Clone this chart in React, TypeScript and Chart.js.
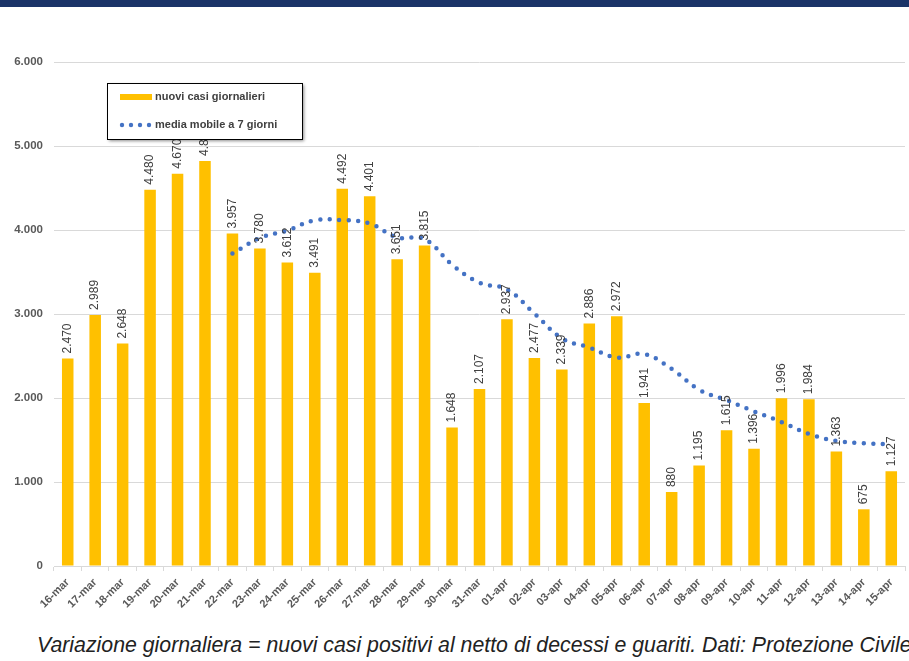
import React, { useEffect, useRef } from 'react';
import { Chart, registerables } from 'chart.js';

Chart.register(...registerables);

const categories = [
  '16-mar', '17-mar', '18-mar', '19-mar', '20-mar', '21-mar', '22-mar', '23-mar',
  '24-mar', '25-mar', '26-mar', '27-mar', '28-mar', '29-mar', '30-mar', '31-mar',
  '01-apr', '02-apr', '03-apr', '04-apr', '05-apr', '06-apr', '07-apr', '08-apr',
  '09-apr', '10-apr', '11-apr', '12-apr', '13-apr', '14-apr', '15-apr',
];

const dailyCases = [
  2470, 2989, 2648, 4480, 4670, 4821, 3957, 3780,
  3612, 3491, 4492, 4401, 3651, 3815, 1648, 2107,
  2937, 2477, 2339, 2886, 2972, 1941, 880, 1195,
  1615, 1396, 1996, 1984, 1363, 675, 1127,
];

const movingAverage: (number | null)[] = [
  null, null, null, null, null, null, 3719, 3906,
  3995, 4116, 4118, 4079, 3912, 3892, 3587, 3372,
  3293, 3005, 2711, 2601, 2481, 2523, 2347, 2099,
  1975, 1841, 1714, 1572, 1490, 1461, 1451,
];

const yTicks = [0, 1000, 2000, 3000, 4000, 5000, 6000];

const barLabel = 'nuovi casi giornalieri';
const lineLabel = 'media mobile a 7 giorni';
const footerText =
  'Variazione giornaliera = nuovi casi positivi al netto di decessi e guariti. Dati: Protezione Civile';

const BAR_COLOR = '#FFC000';
const LINE_COLOR = '#4472C4';
const FONT = "'Liberation Sans', Arial, Helvetica, sans-serif";

const fmt = (v: number) => String(Math.round(v)).replace(/\B(?=(\d{3})+(?!\d))/g, '.');

const valueLabelPlugin = {
  id: 'valueLabels',
  afterDatasetsDraw(chart: any) {
    const ctx = chart.ctx as CanvasRenderingContext2D;
    const meta = chart.getDatasetMeta(0);
    ctx.save();
    ctx.font = `12px ${FONT}`;
    ctx.fillStyle = '#404040';
    ctx.textAlign = 'left';
    ctx.textBaseline = 'middle';
    meta.data.forEach((el: any, i: number) => {
      const v = dailyCases[i];
      ctx.save();
      ctx.translate(el.x, el.y - 5);
      ctx.rotate(-Math.PI / 2);
      ctx.fillText(fmt(v), 0, 0);
      ctx.restore();
    });
    ctx.restore();
  },
};

const legendPlugin = {
  id: 'boxLegend',
  afterDraw(chart: any) {
    const ctx = chart.ctx as CanvasRenderingContext2D;
    const x = 107, y = 83, w = 195, h = 56;
    ctx.save();
    ctx.shadowColor = 'rgba(0,0,0,0.45)';
    ctx.shadowOffsetX = 2;
    ctx.shadowOffsetY = 2;
    ctx.shadowBlur = 3;
    ctx.fillStyle = '#ffffff';
    ctx.fillRect(x, y, w, h);
    ctx.shadowColor = 'transparent';
    ctx.strokeStyle = '#000000';
    ctx.lineWidth = 1;
    ctx.strokeRect(x + 0.5, y + 0.5, w, h);

    ctx.fillStyle = BAR_COLOR;
    ctx.fillRect(120, 94, 32, 6);
    ctx.fillStyle = LINE_COLOR;
    [122, 131, 140, 149].forEach((cx) => {
      ctx.beginPath();
      ctx.arc(cx, 125, 2.2, 0, Math.PI * 2);
      ctx.fill();
    });

    ctx.font = `bold 11px ${FONT}`;
    ctx.fillStyle = '#404040';
    ctx.textBaseline = 'middle';
    ctx.textAlign = 'left';
    ctx.fillText(barLabel, 155, 97);
    ctx.fillText(lineLabel, 155, 125);
    ctx.restore();
  },
};

export default function App() {
  const canvasRef = useRef<HTMLCanvasElement | null>(null);

  useEffect(() => {
    if (!canvasRef.current) return;
    const chart = new Chart(canvasRef.current, {
      type: 'bar',
      data: {
        labels: categories,
        datasets: [
          {
            type: 'bar',
            label: barLabel,
            data: dailyCases,
            backgroundColor: BAR_COLOR,
            borderWidth: 0,
            barPercentage: 0.42,
            categoryPercentage: 1,
            order: 2,
          },
          {
            type: 'line',
            label: lineLabel,
            data: movingAverage,
            borderColor: LINE_COLOR,
            borderWidth: 4.5,
            borderDash: [0, 9.5],
            borderCapStyle: 'round',
            pointRadius: 0,
            tension: 0.4,
            fill: false,
            order: 1,
          } as any,
        ],
      },
      options: {
        animation: false,
        responsive: false,
        maintainAspectRatio: false,
        layout: { padding: { top: 62, right: 4, left: 0, bottom: 0 } },
        plugins: {
          legend: { display: false },
          tooltip: { enabled: false },
        },
        scales: {
          x: {
            offset: true,
            grid: {
              display: true,
              drawOnChartArea: false,
              drawTicks: true,
              tickLength: 5,
              color: '#d9d9d9',
              offset: true,
            },
            border: { display: true, color: '#d9d9d9' },
            ticks: {
              autoSkip: false,
              maxRotation: 45,
              minRotation: 45,
              color: '#595959',
              font: { family: FONT, size: 11, weight: 'bold' },
              padding: 5,
            },
            afterFit: (axis: any) => {
              axis.height = 54;
            },
          },
          y: {
            min: 0,
            max: 6000,
            afterBuildTicks: (axis: any) => {
              axis.ticks = yTicks.map((v) => ({ value: v }));
            },
            grid: { color: '#d9d9d9', drawTicks: false },
            border: { display: false },
            ticks: {
              color: '#595959',
              font: { family: FONT, size: 11.5, weight: 'bold' },
              padding: 11,
              callback: (v: any) => fmt(Number(v)),
            },
            afterFit: (axis: any) => {
              axis.width = 54;
            },
          },
        },
      },
      plugins: [valueLabelPlugin, legendPlugin],
    });
    return () => chart.destroy();
  }, []);

  return (
    <div
      style={{
        position: 'fixed',
        left: 0,
        top: 0,
        width: 909,
        height: 661,
        background: '#ffffff',
        overflow: 'hidden',
      }}
    >
      <div
        style={{
          position: 'absolute',
          left: 0,
          top: 0,
          width: 909,
          height: 7,
          background: '#1B3468',
        }}
      />
      <canvas
        ref={canvasRef}
        width={909}
        height={620}
        style={{ position: 'absolute', left: 0, top: 0, width: 909, height: 620 }}
      />
      <div
        style={{
          position: 'absolute',
          left: 37,
          top: 633,
          whiteSpace: 'nowrap',
          fontFamily: FONT,
          fontStyle: 'italic',
          fontSize: 21.3,
          lineHeight: 'normal',
          color: '#222222',
        }}
      >
        {footerText}
      </div>
    </div>
  );
}
